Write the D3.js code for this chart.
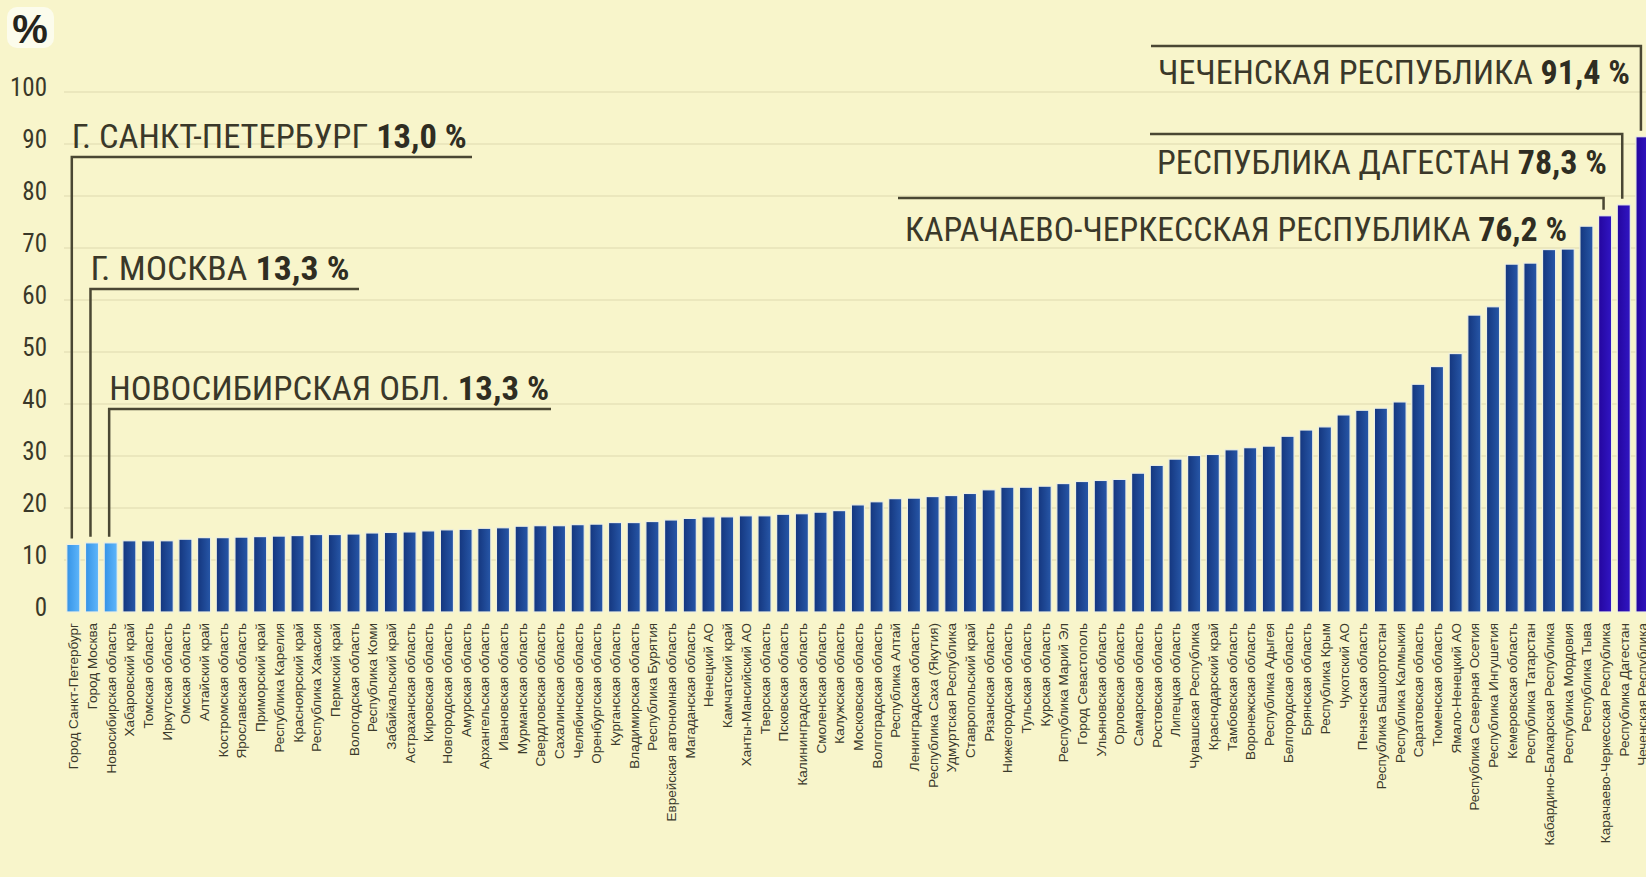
<!DOCTYPE html>
<html lang="ru">
<head>
<meta charset="utf-8">
<script src="https://cdn.jsdelivr.net/npm/d3@7/dist/d3.min.js"></script>
<style>
  html, body { margin: 0; padding: 0; background: #f8f5cb; }
  svg { display: block; }
  .tick-y { font-family: "Liberation Sans Narrow", "Roboto Condensed", "DejaVu Sans Condensed", sans-serif; font-stretch: condensed; font-size: 25px; fill: #3a3829; }
  .lbl-x { font-family: "Liberation Sans", Arial, sans-serif; font-size: 13.5px; fill: #3b3a2b; }
  .callout { font-family: "Liberation Sans Narrow", "Roboto Condensed", "DejaVu Sans Condensed", sans-serif; font-stretch: condensed; font-size: 34px; fill: #3a3829; }
</style>
</head>
<body>
<div id="root"></div>
<script>
// регионы, отсортированные по доле (%)
const regions = [
  "Город Санкт-Петербург","Город Москва","Новосибирская область","Хабаровский край","Томская область",
  "Иркутская область","Омская область","Алтайский край","Костромская область","Ярославская область",
  "Приморский край","Республика Карелия","Красноярский край","Республика Хакасия","Пермский край",
  "Вологодская область","Республика Коми","Забайкальский край","Астраханская область","Кировская область",
  "Новгородская область","Амурская область","Архангельская область","Ивановская область","Мурманская область",
  "Свердловская область","Сахалинская область","Челябинская область","Оренбургская область","Курганская область",
  "Владимирская область","Республика Бурятия","Еврейская автономная область","Магаданская область","Ненецкий АО",
  "Камчатский край","Ханты-Мансийский АО","Тверская область","Псковская область","Калининградская область",
  "Смоленская область","Калужская область","Московская область","Волгоградская область","Республика Алтай",
  "Ленинградская область","Республика Саха (Якутия)","Удмуртская Республика","Ставропольский край","Рязанская область",
  "Нижегородская область","Тульская область","Курская область","Республика Марий Эл","Город Севастополь",
  "Ульяновская область","Орловская область","Самарская область","Ростовская область","Липецкая область",
  "Чувашская Республика","Краснодарский край","Тамбовская область","Воронежская область","Республика Адыгея",
  "Белгородская область","Брянская область","Республика Крым","Чукотский АО","Пензенская область",
  "Республика Башкортостан","Республика Калмыкия","Саратовская область","Тюменская область","Ямало-Ненецкий АО",
  "Республика Северная Осетия","Республика Ингушетия","Кемеровская область","Республика Татарстан","Кабардино-Балкарская Республика",
  "Республика Мордовия","Республика Тыва","Карачаево-Черкесская Республика","Республика Дагестан","Чеченская Республика"
];

const shares = [
  13.0, 13.3, 13.3, 13.7, 13.7, 13.7, 14.0, 14.3, 14.3, 14.4,
  14.5, 14.6, 14.7, 14.9, 14.9, 15.0, 15.2, 15.3, 15.4, 15.6,
  15.8, 15.9, 16.1, 16.2, 16.5, 16.6, 16.6, 16.8, 16.9, 17.2,
  17.2, 17.4, 17.7, 18.0, 18.3, 18.3, 18.5, 18.5, 18.8, 18.9,
  19.2, 19.5, 20.6, 21.2, 21.8, 21.9, 22.2, 22.4, 22.8, 23.5,
  24.0, 24.0, 24.2, 24.7, 25.1, 25.3, 25.5, 26.7, 28.2, 29.4,
  30.1, 30.3, 31.2, 31.6, 31.9, 33.8, 35.0, 35.6, 37.9, 38.8,
  39.2, 40.4, 43.8, 47.2, 49.7, 57.1, 58.7, 66.9, 67.1, 69.7,
  69.8, 74.2, 76.2, 78.3, 91.4
];

const yTicks = [0, 10, 20, 30, 40, 50, 60, 70, 80, 90, 100];

const lowest  = ["Город Санкт-Петербург", "Город Москва", "Новосибирская область"];
const highest = ["Карачаево-Черкесская Республика", "Республика Дагестан", "Чеченская Республика"];

// подписи-выноски
const calloutNames = {
  "Город Санкт-Петербург": "Г. САНКТ-ПЕТЕРБУРГ",
  "Город Москва": "Г. МОСКВА",
  "Новосибирская область": "НОВОСИБИРСКАЯ ОБЛ.",
  "Чеченская Республика": "ЧЕЧЕНСКАЯ РЕСПУБЛИКА",
  "Республика Дагестан": "РЕСПУБЛИКА ДАГЕСТАН",
  "Карачаево-Черкесская Республика": "КАРАЧАЕВО-ЧЕРКЕССКАЯ РЕСПУБЛИКА"
};

const W = 1646, H = 877;
const svg = d3.select('#root').append('svg').attr('width', W).attr('height', H);

svg.append('rect').attr('width', W).attr('height', H).attr('fill', '#f8f5cb');

const x = d3.scaleBand().domain(regions).range([64, 64 + 85 * 18.68]).paddingInner(0.3).paddingOuter(0.15);
const y = d3.scaleLinear().domain([0, 100]).range([612, 92]);

// градиенты столбцов
const defs = svg.append('defs');
function grad(id, a, b) {
  const g = defs.append('linearGradient').attr('id', id).attr('x1', 0).attr('x2', 1).attr('y1', 0).attr('y2', 0);
  g.append('stop').attr('offset', '0%').attr('stop-color', a);
  g.append('stop').attr('offset', '100%').attr('stop-color', b);
}
grad('gLow', '#3593e6', '#5fb6fb');
grad('gMid', '#14367e', '#2757a8');
grad('gHigh', '#24069e', '#3116c4');

// сетка
svg.append('g').selectAll('line').data(yTicks.filter(d => d > 0)).join('line')
  .attr('x1', 64).attr('x2', W)
  .attr('y1', d => y(d)).attr('y2', d => y(d))
  .attr('stroke', '#ebe7bd').attr('stroke-width', 2);

// ось Y
svg.append('g').selectAll('text').data(yTicks).join('text')
  .attr('class', 'tick-y')
  .attr('x', 47).attr('y', d => y(d) - 3)
  .attr('text-anchor', 'end').attr('dominant-baseline', 'middle')
  .text(d => d);

// значок %
svg.append('rect').attr('x', 7).attr('y', 7).attr('width', 47).attr('height', 41).attr('rx', 10).attr('fill', '#fcfcec');
svg.append('text').attr('x', 30).attr('y', 43).attr('text-anchor', 'middle')
  .attr('font-family', 'Liberation Sans, Arial, sans-serif').attr('font-weight', 'bold')
  .attr('font-size', 40).attr('fill', '#25241c').text('%');

// столбцы
const fillOf = r => lowest.includes(r) ? 'url(#gLow)' : highest.includes(r) ? 'url(#gHigh)' : 'url(#gMid)';
svg.append('g').selectAll('rect').data(regions).join('rect')
  .attr('x', d => x(d)).attr('width', x.bandwidth())
  .attr('y', (d, i) => y(shares[i])).attr('height', (d, i) => y(0) - y(shares[i]))
  .attr('fill', d => fillOf(d))
  .attr('stroke', '#eef0e2').attr('stroke-width', 1.2);

// подписи регионов
svg.append('g').selectAll('text').data(regions).join('text')
  .attr('class', 'lbl-x')
  .attr('transform', d => `translate(${x(d) + x.bandwidth() / 2 + 5},${623}) rotate(-90)`)
  .attr('text-anchor', 'end')
  .text(d => d);

// выноски
const fmt = v => v.toFixed(1).replace('.', ',') + ' %';
const ink = '#4a4733';
const placeLeft = [
  { r: "Город Санкт-Петербург", lineY: 157, lineEnd: 472, w: 395 },
  { r: "Город Москва",          lineY: 289, lineEnd: 359, w: 259 },
  { r: "Новосибирская область", lineY: 409, lineEnd: 551, w: 440 }
];
const placeRight = [
  { r: "Чеченская Республика",            lineY: 46,  base: 84,  right: 1630, w: 472 },
  { r: "Республика Дагестан",             lineY: 134, base: 174, right: 1607, w: 450 },
  { r: "Карачаево-Черкесская Республика", lineY: 198, base: 241, right: 1567, w: 662 }
];

function label(xPos, base, w, r) {
  const t = svg.append('text').attr('class', 'callout')
    .attr('x', xPos).attr('y', base)
    .attr('textLength', w).attr('lengthAdjust', 'spacingAndGlyphs');
  t.append('tspan').text(calloutNames[r] + ' ');
  t.append('tspan').attr('font-weight', 'bold').attr('fill', '#2f2d22').text(fmt(shares[regions.indexOf(r)]));
}

placeLeft.forEach(p => {
  const vx = x(p.r) + 5;
  const top = y(shares[regions.indexOf(p.r)]) - 6;
  svg.append('path').attr('d', `M${p.lineEnd},${p.lineY}H${vx}V${top}`)
    .attr('fill', 'none').attr('stroke', ink).attr('stroke-width', 2.5);
  label(vx, p.lineY - 9, p.w, p.r);
});

placeRight.forEach(p => {
  const vx = x(p.r) + 5;
  const top = y(shares[regions.indexOf(p.r)]) - 6;
  const left = p.right - p.w;
  svg.append('path').attr('d', `M${left - 7},${p.lineY}H${vx}V${top}`)
    .attr('fill', 'none').attr('stroke', ink).attr('stroke-width', 2.5);
  label(left, p.base, p.w, p.r);
});
</script>
</body>
</html>
